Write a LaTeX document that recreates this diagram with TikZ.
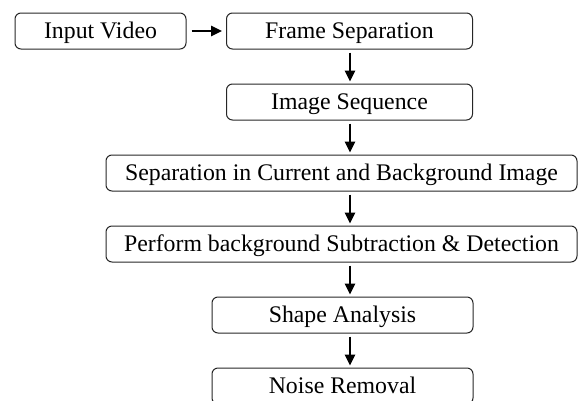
\documentclass[tikz,border=0pt]{standalone}
\usepackage{fontspec}
\setmainfont{Liberation Serif}
\usetikzlibrary{arrows.meta}
\begin{document}
\begin{tikzpicture}[x=1pt,y=-1pt,
  stage/.style={draw=black!85, line width=1pt, rounded corners=6pt,
    inner sep=0pt, minimum height=36pt, text height=15.7pt, text depth=0pt,
    font=\fontsize{23.8}{28}\selectfont},
  flow/.style={line width=1.7pt, -{Triangle[length=11pt,width=10.5pt]}}]
\useasboundingbox (0,0) rectangle (579,400);
\clip (0,0) rectangle (579,400);

% processing stages
\node[stage, minimum width=171pt] (input)    at (100.5,31)  {Input Video};
\node[stage, minimum width=246pt] (frames)   at (349.5,31)  {Frame Separation};
\node[stage, minimum width=246pt] (seq)      at (349.5,102) {Image Sequence};
\node[stage, minimum width=471pt] (split)    at (341.5,173) {Separation in Current and Background Image};
\node[stage, minimum width=471pt] (subtract) at (341.5,244) {Perform background Subtraction \& Detection};
\node[stage, minimum width=261pt] (shape)    at (342.5,315) {Shape Analysis};
\node[stage, minimum width=261pt] (noise)    at (342.5,386) {Noise Removal};

% vertical axis shared by the downward arrows
\coordinate (axis) at (350,0);

% connectors
\draw[flow, shorten <=5pt, shorten >=4pt] (input.east) -- (frames.west);
\draw[flow, shorten <=3pt, shorten >=2pt] (frames.south -| axis) -- (seq.north -| axis);
\draw[flow, shorten <=3pt, shorten >=2pt] (seq.south -| axis) -- (split.north -| axis);
\draw[flow, shorten <=3pt, shorten >=2pt] (split.south -| axis) -- (subtract.north -| axis);
\draw[flow, shorten <=3pt, shorten >=2pt] (subtract.south -| axis) -- (shape.north -| axis);
\draw[flow, shorten <=3pt, shorten >=2pt] (shape.south -| axis) -- (noise.north -| axis);
\end{tikzpicture}
\end{document}
